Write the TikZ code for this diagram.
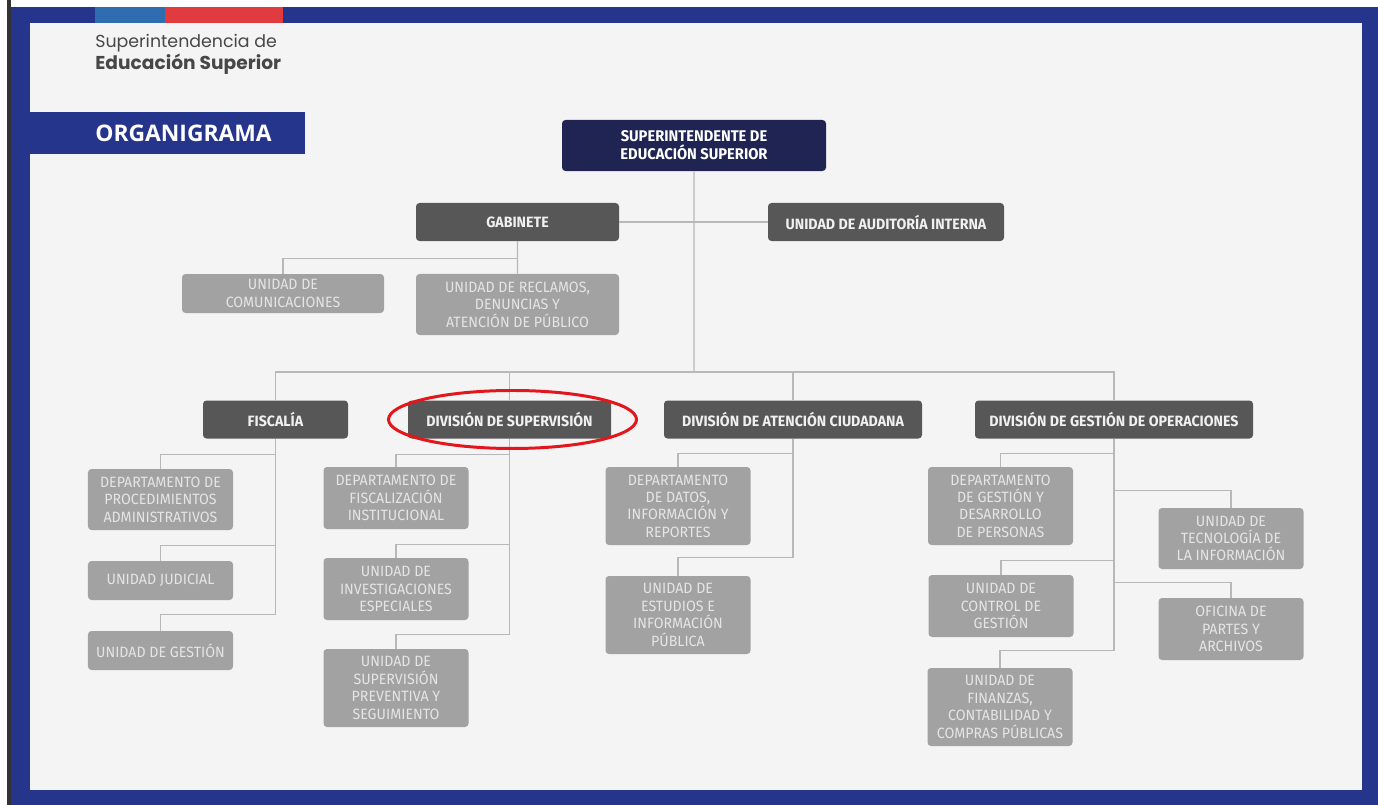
\documentclass[tikz,border=0pt]{standalone}
\usepackage{fontspec}
\newfontfamily\boxfont[FakeStretch=0.95]{Fira Sans}
\newfontfamily\logofont{Poppins}
\newfontfamily\titlefont{Open Sans}

\definecolor{frameblue}{HTML}{25358C}
\definecolor{stripeblue}{HTML}{2F6CB0}
\definecolor{stripered}{HTML}{E23B3F}
\definecolor{panelgray}{HTML}{F4F4F4}
\definecolor{navyfill}{HTML}{1F2452}
\definecolor{darkfill}{HTML}{575757}
\definecolor{lightfill}{HTML}{A2A2A2}
\definecolor{linkgray}{HTML}{B8B8B8}
\definecolor{marker}{HTML}{E3161B}

\begin{document}
\begin{tikzpicture}[scale=0.2]
\tikzstyle{every node}+=[inner sep=0pt]
\tikzstyle{headbox}=[rectangle, rounded corners=2pt, fill=navyfill, text=white, align=center, font=\boxfont\bfseries\fontsize{8.8}{10.2}\selectfont]
\tikzstyle{divbox}=[rectangle, rounded corners=2pt, fill=darkfill, text=white!94!black, align=center, minimum height=0.76cm, font=\boxfont\bfseries\fontsize{8.5}{10}\selectfont]
\tikzstyle{unitbox}=[rectangle, rounded corners=2pt, fill=lightfill, text=white!90!black, align=center, minimum width=2.9cm, font=\boxfont\fontsize{8.5}{9.9}\selectfont]
\tikzstyle{link}=[linkgray, line width=0.8pt]

\useasboundingbox (0,0) rectangle (137.8,-80.5);

% frame
\fill[white] (0,0) rectangle (137.8,-80.5);
\fill[frameblue] (0.8,-0.7) rectangle (137.8,-80.5);
\fill[black!80] (0.7,0) rectangle (1.1,-80.5);
\fill[panelgray] (3.0,-2.3) rectangle (136.2,-79.0);
\fill[stripeblue] (9.5,-0.7) rectangle (16.5,-2.3);
\fill[stripered] (16.5,-0.7) rectangle (28.3,-2.3);

% header
\draw (9.5,-5.4) node[anchor=west, align=left, text=black!72, font=\logofont\fontsize{9.9}{11.3}\selectfont] (brand) {Superintendencia de\\\fontsize{10.6}{11.3}\selectfont\textbf{Educación Superior}};
\fill[frameblue] (3.0,-11.2) rectangle (30.5,-15.4);
\draw (9.5,-13.3) node[anchor=west, text=white, font=\titlefont\bfseries\fontsize{13}{15}\selectfont] (title) {ORGANIGRAMA};

% top level
\draw (69.4,-14.55) node[headbox, minimum width=5.28cm, minimum height=1.02cm] (sup) {SUPERINTENDENTE DE\\EDUCACIÓN SUPERIOR};
\draw (51.75,-22.2) node[divbox, minimum width=4.06cm] (gab) {GABINETE};
\draw (88.6,-22.2) node[divbox, minimum width=4.72cm] (aud) {UNIDAD DE AUDITORÍA INTERNA};
\draw (28.3,-29.35) node[unitbox, minimum width=4.04cm, minimum height=0.78cm] (com) {UNIDAD DE\\COMUNICACIONES};
\draw (51.75,-30.45) node[unitbox, minimum width=4.06cm, minimum height=1.22cm] (rec) {UNIDAD DE RECLAMOS,\\DENUNCIAS Y\\ATENCIÓN DE PÚBLICO};

% divisions
\draw (27.55,-41.95) node[divbox, minimum width=2.9cm] (fis) {FISCALÍA};
\draw (50.95,-41.95) node[divbox, minimum width=4.06cm] (dsu) {DIVISIÓN DE SUPERVISIÓN};
\draw (79.3,-41.95) node[divbox, minimum width=5.16cm] (dac) {DIVISIÓN DE ATENCIÓN CIUDADANA};
\draw (111.4,-41.95) node[divbox, minimum width=5.56cm] (dgo) {DIVISIÓN DE GESTIÓN DE OPERACIONES};

% units
\draw (16.05,-49.95) node[unitbox, minimum height=1.22cm] (dpa) {DEPARTAMENTO DE\\PROCEDIMIENTOS\\ADMINISTRATIVOS};
\draw (16.05,-58.05) node[unitbox, minimum height=0.78cm] (uju) {UNIDAD JUDICIAL};
\draw (16.05,-65.05) node[unitbox, minimum height=0.78cm] (uge) {UNIDAD DE GESTIÓN};

\draw (39.6,-49.8) node[unitbox, minimum height=1.24cm] (dfi) {DEPARTAMENTO DE\\FISCALIZACIÓN\\INSTITUCIONAL};
\draw (39.6,-58.9) node[unitbox, minimum height=1.24cm] (uin) {UNIDAD DE\\INVESTIGACIONES\\ESPECIALES};
\draw (39.6,-68.8) node[unitbox, minimum height=1.56cm] (usp) {UNIDAD DE\\SUPERVISIÓN\\PREVENTIVA Y\\SEGUIMIENTO};

\draw (67.8,-50.6) node[unitbox, minimum height=1.56cm] (ddr) {DEPARTAMENTO\\DE DATOS,\\INFORMACIÓN Y\\REPORTES};
\draw (67.8,-61.5) node[unitbox, minimum height=1.56cm] (uei) {UNIDAD DE\\ESTUDIOS E\\INFORMACIÓN\\PÚBLICA};

\draw (100.05,-50.6) node[unitbox, minimum height=1.56cm] (dgd) {DEPARTAMENTO\\DE GESTIÓN Y\\DESARROLLO\\DE PERSONAS};
\draw (100.1,-60.6) node[unitbox, minimum height=1.24cm] (ucg) {UNIDAD DE\\CONTROL DE\\GESTIÓN};
\draw (100,-70.7) node[unitbox, minimum height=1.56cm] (ufc) {UNIDAD DE\\FINANZAS,\\CONTABILIDAD Y\\COMPRAS PÚBLICAS};
\draw (123.1,-53.85) node[unitbox, minimum height=1.22cm] (uti) {UNIDAD DE\\TECNOLOGÍA DE\\LA INFORMACIÓN};
\draw (123.1,-62.9) node[unitbox, minimum height=1.24cm] (opa) {OFICINA DE\\PARTES Y\\ARCHIVOS};

% connectors
\coordinate (bus) at (69.4,-37.2);
\draw[link] (sup) -- (bus);
\draw[link] (gab) -- (aud);
\draw[link] (rec) -- (gab);
\draw[link] (com.north) -- ++(0,1.5) -| (gab.south);
\draw[link] (fis.north) |- (bus) -| (dgo.north);
\draw[link] (dsu.north) -- (dsu.north |- bus);
\draw[link] (dac.north) -- (dac.north |- bus);

\draw[link] (dpa.north) -- ++(0,1.4) -| (fis.south);
\draw[link] (uju.north) -- ++(0,1.5) -| (fis.south);
\draw[link] (uge.north) -- ++(0,1.6) -| (fis.south);
\draw[link] (dfi.north) -- ++(0,1.2) -| (dsu.south);
\draw[link] (uin.north) -- ++(0,1.3) -| (dsu.south);
\draw[link] (usp.north) -- ++(0,1.4) -| (dsu.south);
\draw[link] (ddr.north) -- ++(0,1.3) -| (dac.south);
\draw[link] (uei.north) -- ++(0,1.8) -| (dac.south);
\draw[link] (dgd.north) -- ++(0,1.3) -| (dgo.south);
\draw[link] (ucg.north) -- ++(0,1.4) -| (dgo.south);
\draw[link] (ufc.north) -- ++(0,1.7) -| (dgo.south);
\draw[link] (uti.north) -- ++(0,1.7) -| (dgo.south);
\draw[link] (opa.north) -- ++(0,1.5) -| (dgo.south);

% highlight
\draw[marker, line width=1.7pt] (dsu.center) ++(0.3,0) ellipse [x radius=12.4, y radius=2.9];
\end{tikzpicture}
\end{document}
